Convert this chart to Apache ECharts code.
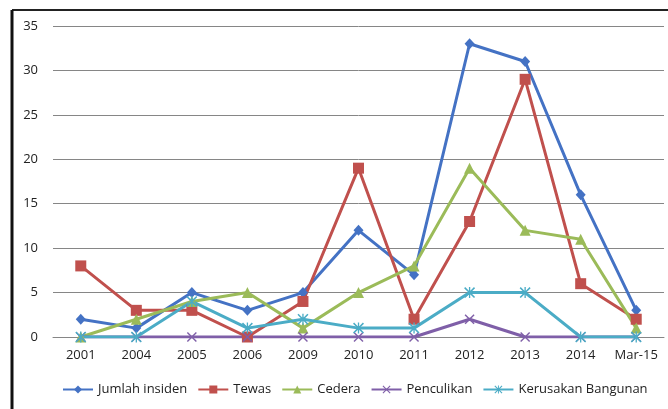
<!DOCTYPE html>
<html><head><meta charset="utf-8">
<script src="https://cdn.jsdelivr.net/npm/echarts@6/dist/echarts.min.js"></script>
<style>html,body{margin:0;padding:0;background:#fff}#c{width:668px;height:409px}</style>
</head><body><div id="c"></div>
<script>
var categories = ['2001','2004','2005','2006','2009','2010','2011','2012','2013','2014','Mar-15'];
var jumlahInsiden = [2,1,5,3,5,12,7,33,31,16,3];
var tewas = [8,3,3,0,4,19,2,13,29,6,2];
var cedera = [0,2,4,5,1,5,8,19,12,11,1];
var penculikan = [0,0,0,0,0,0,0,2,0,0,0];
var kerusakanBangunan = [0,0,4,1,2,1,1,5,5,0,0];
var yTicks = {min:0, max:35, interval:5};

var X = 'path://M1,0L5,4L9,0L10,1L6,5L10,9L9,10L5,6L1,10L0,9L4,5L0,1Z';
var STAR = 'path://M1,0L5,4L9,0L10,1L6,5L10,9L9,10L5,6L1,10L0,9L4,5L0,1Z M4.4,0L5.6,0L5.6,10L4.4,10Z';
function s(name, data, color, symbol, size){
  return {name:name, type:'line', data:data, symbol:symbol, symbolSize:size,
    lineStyle:{color:color, width:3}, itemStyle:{color:color}, animation:false};
}
var chart = echarts.init(document.getElementById('c'));
chart.setOption({
  animation:false,
  textStyle:{fontFamily:'Open Sans'},
  graphic:[
    {type:'line', shape:{x1:12,y1:10,x2:668,y2:10}, style:{stroke:'#222', lineWidth:2}, silent:true},
    {type:'line', shape:{x1:12,y1:10,x2:12,y2:409}, style:{stroke:'#111', lineWidth:3}, silent:true}
  ],
  grid:{left:53, right:4, top:26, bottom:72},
  legend:{left:57, top:378, itemWidth:30, itemHeight:10, itemGap:10,
    textStyle:{fontSize:13, color:'#222', fontFamily:'Open Sans'},
    data:['Jumlah insiden','Tewas','Cedera','Penculikan','Kerusakan Bangunan']},
  xAxis:{type:'category', data:categories, boundaryGap:true,
    axisLine:{lineStyle:{color:'#868686', width:1}}, axisTick:{show:false},
    axisLabel:{color:'#222', fontSize:13, margin:12, interval:0}},
  yAxis:{type:'value', min:yTicks.min, max:yTicks.max, interval:yTicks.interval,
    axisLine:{show:false}, axisTick:{show:false},
    splitLine:{lineStyle:{color:'#868686', width:1}},
    axisLabel:{color:'#222', fontSize:13, margin:15}},
  series:[
    s('Jumlah insiden', jumlahInsiden, '#4472C4', 'diamond', [10,11]),
    s('Tewas', tewas, '#C0504D', 'rect', 11),
    s('Cedera', cedera, '#9BBB59', 'triangle', 11),
    s('Penculikan', penculikan, '#7F5FA8', X, 10),
    s('Kerusakan Bangunan', kerusakanBangunan, '#4BACC6', STAR, 11)
  ]
});
</script></body></html>
